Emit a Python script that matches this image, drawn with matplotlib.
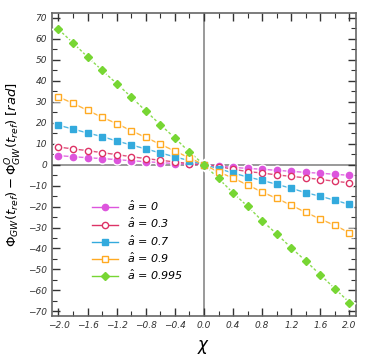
import numpy as np
import matplotlib
matplotlib.use("Agg")
import matplotlib.pyplot as plt
from matplotlib.ticker import MultipleLocator

# ── Data ─────────────────────────────────────────────────────────────────────
chi = [-2.0, -1.8, -1.6, -1.4, -1.2, -1.0, -0.8, -0.6, -0.4, -0.2, 0.0,
       0.2, 0.4, 0.6, 0.8, 1.0, 1.2, 1.4, 1.6, 1.8, 2.0]

dphi_a0 = [4.3, 3.8, 3.3, 2.9, 2.4, 1.9, 1.4, 1.0, 0.5, 0.2, 0.0,
           -0.6, -1.3, -1.8, -2.2, -2.7, -3.2, -3.7, -4.1, -4.6, -5.1]
dphi_a03 = [8.4, 7.5, 6.7, 5.7, 4.8, 3.8, 2.9, 2.1, 1.3, 0.5, 0.0,
            -0.9, -2.2, -3.3, -4.0, -4.9, -5.6, -6.3, -7.1, -7.9, -8.7]
dphi_a07 = [18.8, 17.0, 15.1, 13.4, 11.3, 9.4, 7.5, 5.6, 3.7, 1.9, 0.0,
            -1.9, -4.0, -5.9, -7.5, -9.4, -11.3, -13.4, -15.1, -17.0, -19.0]
dphi_a09 = [32.3, 29.3, 25.9, 22.6, 19.6, 16.2, 13.0, 9.7, 6.5, 3.2, 0.0,
            -3.5, -6.4, -9.7, -13.1, -16.1, -19.4, -22.8, -26.0, -29.0, -32.5]
dphi_a0995 = [64.6, 58.1, 51.4, 45.0, 38.7, 32.3, 25.6, 19.1, 12.7, 6.0, 0.0,
              -6.6, -13.5, -19.9, -26.8, -33.1, -39.7, -46.0, -52.6, -59.2, -65.8]

labels = ["0", "0.3", "0.7", "0.9", "0.995"]

# ── Styles ───────────────────────────────────────────────────────────────────
series = [
    (dphi_a0,    "#dd55dd", "o", True,  "-"),
    (dphi_a03,   "#dd3366", "o", False, "-"),
    (dphi_a07,   "#33aadd", "s", True,  "-"),
    (dphi_a09,   "#ffaa22", "s", False, "-"),
    (dphi_a0995, "#77d633", "D", True,  (0, (2, 1.5))),
]

fig = plt.figure(figsize=(3.82, 3.56), dpi=100)
ax = fig.add_axes([0.136, 0.112, 0.796, 0.851])

ax.axhline(0, color="#888888", lw=1.2, zorder=1)
ax.axvline(0, color="#888888", lw=1.2, zorder=1)

for (vals, col, mk, filled, ls), lab in zip(series, labels):
    ms = 4.5 if mk != "D" else 4.0
    ax.plot(chi, vals, color=col, lw=1.0, ls=ls, alpha=0.85, zorder=2)
    ax.plot(chi, vals, ls="none", marker=mk, ms=ms + 3, mfc="white",
            mec="none", zorder=3)
    ax.plot(chi, vals, ls="none", marker=mk, ms=ms,
            mfc=col if filled else "white", mec=col, mew=1.0, zorder=4)
    # legend proxy
    ax.plot([], [], color=col, lw=1.0, ls="-", marker=mk, ms=ms,
            mfc=col if filled else "white", mec=col, mew=1.0,
            label=r"$\hat{a}$ = " + lab)

ax.set_xlim(-2.09, 2.09)
ax.set_ylim(-72.3, 72.3)
ax.xaxis.set_major_locator(MultipleLocator(0.4))
ax.xaxis.set_minor_locator(MultipleLocator(0.2))
ax.yaxis.set_major_locator(MultipleLocator(10))
ax.yaxis.set_minor_locator(MultipleLocator(5))
ax.xaxis.set_major_formatter(matplotlib.ticker.FuncFormatter(
    lambda v, p: f"{v:.1f}".replace("-", "\u2212")))

ax.tick_params(which="both", direction="in", top=True, right=True,
               color="#333333", labelsize=6.5, labelcolor="#333333")
ax.tick_params(which="major", length=6, width=1.0)
ax.tick_params(which="minor", length=3.5, width=0.8)
for t in ax.get_xticklabels() + ax.get_yticklabels():
    t.set_fontstyle("italic")

for sp in ax.spines.values():
    sp.set_color("#666666")
    sp.set_linewidth(1.2)

ax.set_xlabel(r"$\chi$", fontsize=12, labelpad=6)
ax.set_ylabel(r"$\Phi_{GW}(t_{ref}) - \Phi^{O}_{GW}(t_{ref})\;[rad]$",
              fontsize=9.5, labelpad=3)

leg = ax.legend(loc="upper left", bbox_to_anchor=(0.1, 0.42), frameon=False,
                fontsize=8, handlelength=2.3, labelspacing=0.25,
                handletextpad=0.8)
for t in leg.get_texts():
    t.set_fontstyle("italic")

fig.savefig("out.png", dpi=100)
